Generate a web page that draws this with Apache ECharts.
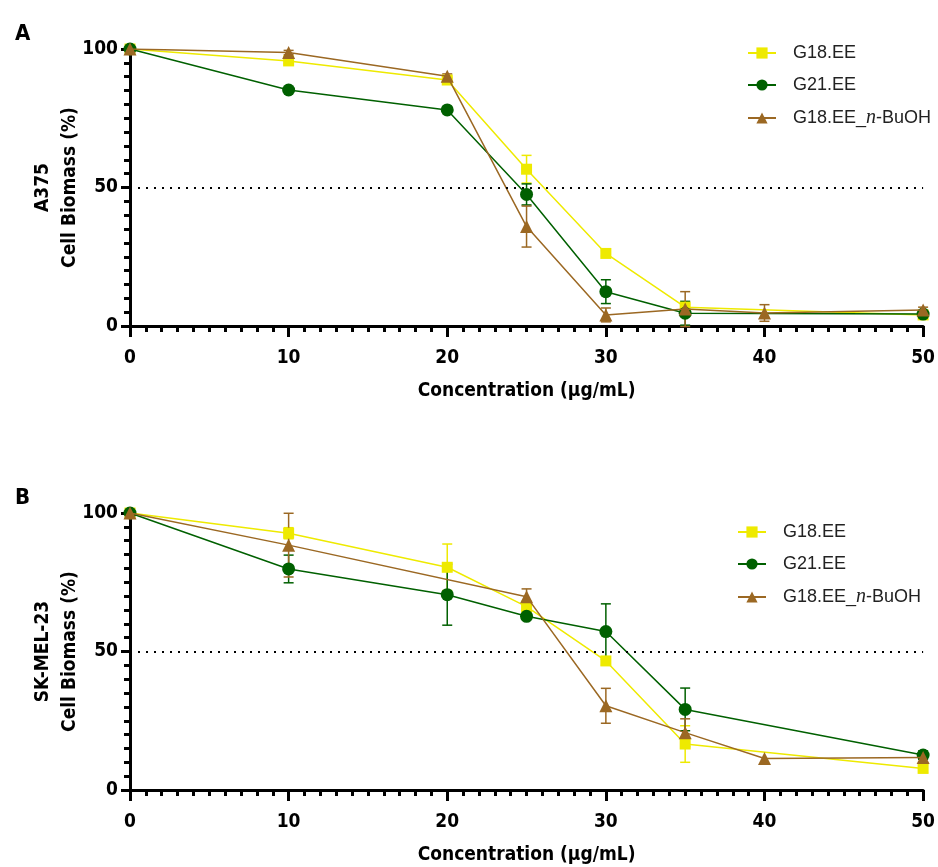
<!DOCTYPE html>
<html>
<head>
<meta charset="utf-8">
<script src="https://cdn.jsdelivr.net/npm/echarts@6/dist/echarts.min.js"></script>
<style>
  html, body { margin: 0; padding: 0; background: #fff; }
  #chart { width: 938px; height: 867px; }
</style>
</head>
<body>
<div id="chart"></div>
<script>
const conc = [0, 10, 20, 25, 30, 35, 40, 50];
const names = ["G18.EE", "G21.EE", "G18.EE_n-BuOH"];
const colors = ["#eeea00", "#006000", "#9b6823"];
const symbols = ["rect", "circle", "triangle"];

// panel A (A375)
const g18A    = [100, 95.7, 88.8, 56.6, 26.2, 6.8, null, 4.0];
const g18A_sd = [0, 1, 1, 5, 1, 1, null, 1];
const g21A    = [100, 85.2, 78.0, 47.5, 12.4, 4.6, null, 4.3];
const g21A_sd = [0, 0.8, 0.8, 3.8, 4.3, 4.3, null, 0.5];
const buA     = [100, 98.7, 90.2, 35.9, 4.0, 6.1, 4.7, 5.8];
const buA_sd  = [0, 0.8, 0.8, 7.4, 2.5, 6.3, 3.0, 1];

// panel B (SK-MEL-23)
const g18B    = [100, 92.7, 80.4, 66.2, 46.6, 16.6, null, 7.8];
const g18B_sd = [0, 2, 8.4, 2, 1.5, 6.6, null, 1.5];
const g21B    = [100, 79.8, 70.5, 62.7, 57.2, 29.1, null, 12.6];
const g21B_sd = [0, 5, 11, 1, 10, 7.7, null, 1.5];
const buB     = [100, 88.4, null, 69.8, 30.4, 20.7, 11.4, 11.7];
const buB_sd  = [0, 11.5, null, 2.8, 6.3, 5, 0, 2];

const panels = [
  { cell: "A375", vals: [g18A, g21A, buA], sds: [g18A_sd, g21A_sd, buA_sd] },
  { cell: "SK-MEL-23", vals: [g18B, g21B, buB], sds: [g18B_sd, g21B_sd, buB_sd] }
];

const boldFont = "'Liberation Sans Narrow', 'DejaVu Sans Condensed', sans-serif";
const gridTops = [49, 513];

let chart = echarts.init(document.getElementById("chart"), null, { renderer: "canvas" });

function pairs(v) {
  return conc.map((c, i) => [c, v[i]]).filter(d => d[1] != null);
}
function errs(v, sd) {
  return conc.map((c, i) => [c, v[i] - sd[i], v[i] + sd[i]]).filter((d, i) => v[i] != null && sd[i] > 0);
}

function errorBar(color) {
  return function (params, api) {
    const x = api.value(0);
    const lo = api.coord([x, api.value(1)]);
    const hi = api.coord([x, api.value(2)]);
    const w = 5;
    const st = { stroke: color, lineWidth: 1.5 };
    return {
      type: "group",
      children: [
        { type: "line", shape: { x1: lo[0], y1: lo[1], x2: hi[0], y2: hi[1] }, style: st },
        { type: "line", shape: { x1: lo[0] - w, y1: lo[1], x2: lo[0] + w, y2: lo[1] }, style: st },
        { type: "line", shape: { x1: hi[0] - w, y1: hi[1], x2: hi[0] + w, y2: hi[1] }, style: st }
      ]
    };
  };
}

const grids = gridTops.map(t => ({ left: 130, right: 14, top: t, height: 277 }));

const xAxes = gridTops.map((t, i) => ({
  type: "value", gridIndex: i, min: 0, max: 50, interval: 10,
  name: "Concentration (\u03bcg/mL)", nameLocation: "middle", nameGap: 56, nameMoveOverlap: false,
  nameTextStyle: { fontFamily: boldFont, fontWeight: "bold", fontSize: 19, color: "#000" },
  axisLine: { onZero: false, lineStyle: { color: "#000", width: 3 } },
  axisTick: { length: 11, lineStyle: { width: 3, color: "#000" } },
  minorTick: { show: true, splitNumber: 10, length: 6, lineStyle: { width: 3, color: "#000" } },
  axisLabel: { margin: 23, fontFamily: boldFont, fontWeight: "bold", fontSize: 19, color: "#000" },
  splitLine: { show: false }
}));

const yAxes = panels.map((p, i) => ({
  type: "value", gridIndex: i, min: 0, max: 100, interval: 50,
  name: p.cell + "\nCell Biomass (%)", nameLocation: "middle", nameGap: 46, nameMoveOverlap: false,
  nameTextStyle: { fontFamily: boldFont, fontWeight: "bold", fontSize: 19, color: "#000", lineHeight: 27 },
  axisLine: { onZero: false, lineStyle: { color: "#000", width: 3 } },
  axisTick: { length: 9, lineStyle: { width: 3, color: "#000" } },
  minorTick: { show: true, splitNumber: 10, length: 6, lineStyle: { width: 3, color: "#000" } },
  axisLabel: { margin: 12, fontFamily: boldFont, fontWeight: "bold", fontSize: 19, color: "#000" },
  splitLine: { show: false }
}));

const series = [];
panels.forEach((p, pi) => {
  names.forEach((n, si) => {
    series.push({
      type: "custom", xAxisIndex: pi, yAxisIndex: pi, z: 1,
      renderItem: errorBar(colors[si]), data: errs(p.vals[si], p.sds[si]), silent: true
    });
  });
  names.forEach((n, si) => {
    const s = {
      type: "line", name: n, xAxisIndex: pi, yAxisIndex: pi, z: 2 + si,
      data: pairs(p.vals[si]),
      symbol: symbols[si], symbolSize: si === 0 ? 11 : 13,
      itemStyle: { color: colors[si] },
      lineStyle: { color: colors[si], width: 1.5 }
    };
    if (si === 0) {
      s.markLine = {
        silent: true, symbol: "none", label: { show: false },
        lineStyle: { color: "#000", type: [2, 6], width: 2 },
        data: [{ yAxis: 50 }]
      };
    }
    series.push(s);
  });
});

const legendTops = [39, 518];
const legendLefts = [742, 732];

chart.setOption({
  animation: false,
  title: [
    { text: "A", left: 10, top: 18, textStyle: { fontFamily: boldFont, fontWeight: "bold", fontSize: 22, color: "#000" } },
    { text: "B", left: 10, top: 482, textStyle: { fontFamily: boldFont, fontWeight: "bold", fontSize: 22, color: "#000" } }
  ],
  grid: grids,
  xAxis: xAxes,
  yAxis: yAxes,
  legend: legendTops.map((t, i) => ({
    data: names, orient: "vertical", left: legendLefts[i], top: t,
    itemWidth: 28, itemHeight: 14, itemGap: 14,
    formatter: name => name.replace("_n-", "_{i|n}-"),
    textStyle: {
      fontFamily: "'Liberation Sans', Arial, sans-serif", fontSize: 18, color: "#222",
      padding: [0, 0, 0, 12],
      rich: { i: { fontFamily: "'Liberation Serif', serif", fontStyle: "italic", fontSize: 20, color: "#222" } }
    }
  })),
  series: series
});
</script>
</body>
</html>
